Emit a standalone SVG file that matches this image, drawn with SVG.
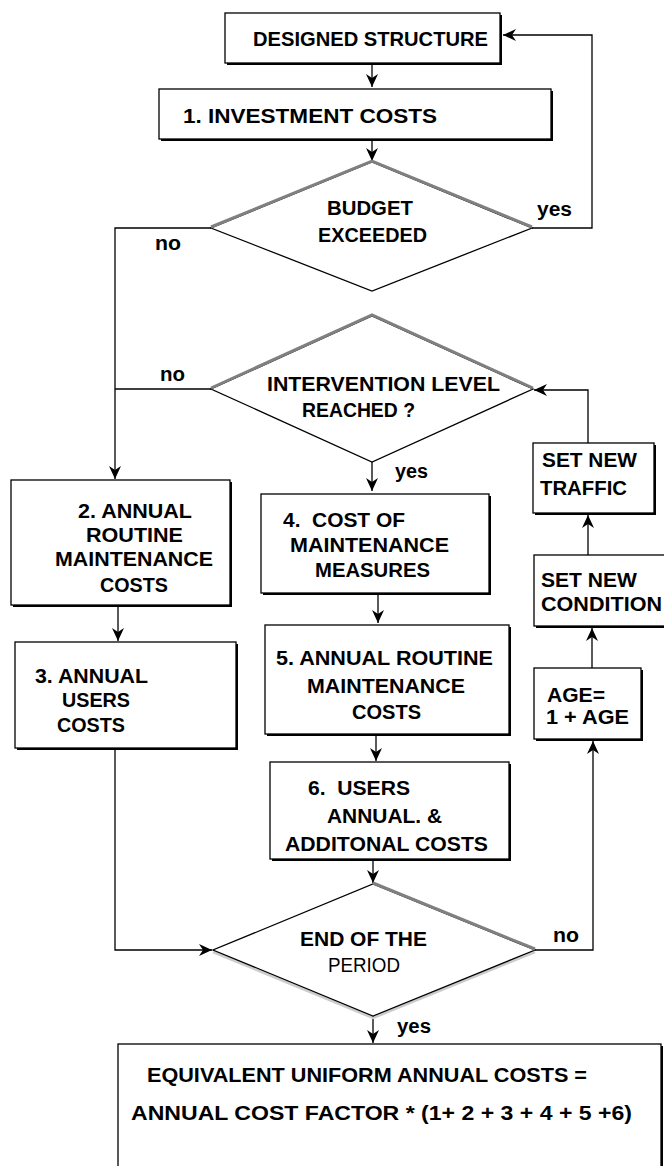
<svg xmlns="http://www.w3.org/2000/svg" width="664" height="1166" viewBox="0 0 664 1166">
<style>
.bx{fill:#fff;stroke:#000;stroke-width:1.3}
.sh{fill:#000}
.dm{fill:#fff;stroke:#000;stroke-width:1.3;stroke-linejoin:miter}
.gr{fill:none;stroke:#808080;stroke-width:3}
.t{font-family:"Liberation Sans",Arial,Helvetica,sans-serif;font-weight:bold;font-size:19.5px;fill:#000}
.n{font-weight:normal}
.c{fill:none;stroke:#000;stroke-width:1.3}
</style>
<defs>
<marker id="ah" markerUnits="userSpaceOnUse" markerWidth="13" markerHeight="12" refX="13" refY="6" orient="auto" viewBox="0 0 13 12">
<path d="M0,0 L13,6 L0,12 L4,6 z" fill="#000"/>
</marker>
</defs>
<rect width="664" height="1166" fill="#fff"/>

<g id="connectors">
<path class="c" d="M372,65 V87" marker-end="url(#ah)"/>
<path class="c" d="M372,141 V161" marker-end="url(#ah)"/>
<path class="c" d="M532,228 H592 V35 H503" marker-end="url(#ah)"/>
<path class="c" d="M211,228 H115 V479" marker-end="url(#ah)"/>
<path class="c" d="M211,389 H115"/>
<path class="c" d="M372,462 V491" marker-end="url(#ah)"/>
<path class="c" d="M118,582 V641" marker-end="url(#ah)"/>
<path class="c" d="M115,750 V950 H212" marker-end="url(#ah)"/>
<path class="c" d="M378,595 V623" marker-end="url(#ah)"/>
<path class="c" d="M376,736 V761" marker-end="url(#ah)"/>
<path class="c" d="M373,861 V883" marker-end="url(#ah)"/>
<path class="c" d="M535,950 H593 V741" marker-end="url(#ah)"/>
<path class="c" d="M592,668 V628" marker-end="url(#ah)"/>
<path class="c" d="M588,555 V515" marker-end="url(#ah)"/>
<path class="c" d="M588,443 V390 H534" marker-end="url(#ah)"/>
<path class="c" d="M373,1016 V1043" marker-end="url(#ah)"/>
</g>

<g id="designed">
<rect class="sh" x="227" y="15" width="275" height="50"/>
<rect class="bx" x="225" y="13" width="275" height="50"/>
<text class="t" x="253" y="46" textLength="235" lengthAdjust="spacingAndGlyphs">DESIGNED STRUCTURE</text>
</g>

<g id="investment">
<rect class="sh" x="161" y="91" width="392" height="50"/>
<rect class="bx" x="159" y="89" width="392" height="50"/>
<text class="t" x="183" y="123" textLength="254" lengthAdjust="spacingAndGlyphs">1. INVESTMENT COSTS</text>
</g>

<g id="budget">
<polygon class="dm" points="372,162 532,228 372,291 211,228"/>
<polyline class="gr" points="211,227 372,161 532,227"/>
<text class="t" x="327" y="215" textLength="86" lengthAdjust="spacingAndGlyphs">BUDGET</text>
<text class="t" x="318" y="242" textLength="109" lengthAdjust="spacingAndGlyphs">EXCEEDED</text>
</g>

<g id="intervention">
<polygon class="dm" points="372,316 533,389 372,462 211,389"/>
<polyline class="gr" points="211,388 372,315 533,388"/>
<text class="t" x="267" y="391" textLength="233" lengthAdjust="spacingAndGlyphs">INTERVENTION LEVEL</text>
<text class="t" x="302" y="417" textLength="113" lengthAdjust="spacingAndGlyphs">REACHED ?</text>
</g>

<g id="box2">
<rect class="sh" x="13" y="482" width="219" height="125"/>
<rect class="bx" x="11" y="480" width="219" height="125"/>
<text class="t" x="78" y="518" textLength="114" lengthAdjust="spacingAndGlyphs">2. ANNUAL</text>
<text class="t" x="86" y="542" textLength="97" lengthAdjust="spacingAndGlyphs">ROUTINE</text>
<text class="t" x="55" y="566" textLength="158" lengthAdjust="spacingAndGlyphs">MAINTENANCE</text>
<text class="t" x="100" y="592" textLength="68" lengthAdjust="spacingAndGlyphs">COSTS</text>
</g>

<g id="box3">
<rect class="sh" x="17" y="644" width="221" height="106"/>
<rect class="bx" x="15" y="642" width="221" height="106"/>
<text class="t" x="35" y="683" textLength="113" lengthAdjust="spacingAndGlyphs">3. ANNUAL</text>
<text class="t" x="62" y="707" textLength="68" lengthAdjust="spacingAndGlyphs">USERS</text>
<text class="t" x="57" y="732" textLength="68" lengthAdjust="spacingAndGlyphs">COSTS</text>
</g>

<g id="box4">
<rect class="sh" x="263" y="496" width="228" height="99"/>
<rect class="bx" x="261" y="494" width="228" height="99"/>
<text class="t" x="283" y="527" textLength="122" lengthAdjust="spacingAndGlyphs" xml:space="preserve">4.  COST OF</text>
<text class="t" x="290" y="552" textLength="159" lengthAdjust="spacingAndGlyphs">MAINTENANCE</text>
<text class="t" x="315" y="577" textLength="115" lengthAdjust="spacingAndGlyphs">MEASURES</text>
</g>

<g id="box5">
<rect class="sh" x="267" y="627" width="244" height="109"/>
<rect class="bx" x="265" y="625" width="244" height="109"/>
<text class="t" x="276" y="665" textLength="217" lengthAdjust="spacingAndGlyphs">5. ANNUAL ROUTINE</text>
<text class="t" x="307" y="693" textLength="158" lengthAdjust="spacingAndGlyphs">MAINTENANCE</text>
<text class="t" x="352" y="719" textLength="69" lengthAdjust="spacingAndGlyphs">COSTS</text>
</g>

<g id="box6">
<rect class="sh" x="272" y="764" width="239" height="97"/>
<rect class="bx" x="270" y="762" width="239" height="97"/>
<text class="t" x="308" y="795" textLength="102" lengthAdjust="spacingAndGlyphs" xml:space="preserve">6.  USERS</text>
<text class="t" x="327" y="823" textLength="115" lengthAdjust="spacingAndGlyphs">ANNUAL. &amp;</text>
<text class="t" x="285" y="851" textLength="203" lengthAdjust="spacingAndGlyphs">ADDITONAL COSTS</text>
</g>

<g id="traffic">
<rect class="sh" x="535" y="445" width="121" height="70"/>
<rect class="bx" x="533" y="443" width="121" height="70"/>
<text class="t" x="542" y="467" textLength="95" lengthAdjust="spacingAndGlyphs">SET NEW</text>
<text class="t" x="540" y="495" textLength="87" lengthAdjust="spacingAndGlyphs">TRAFFIC</text>
</g>

<g id="condition">
<rect class="sh" x="536" y="557" width="150" height="71"/>
<rect class="bx" x="534" y="555" width="150" height="71"/>
<text class="t" x="541" y="587" textLength="96" lengthAdjust="spacingAndGlyphs">SET NEW</text>
<text class="t" x="541" y="611" textLength="121" lengthAdjust="spacingAndGlyphs">CONDITION</text>
</g>

<g id="age">
<rect class="sh" x="536" y="670" width="107" height="71"/>
<rect class="bx" x="534" y="668" width="107" height="71"/>
<text class="t" x="547" y="702" textLength="58" lengthAdjust="spacingAndGlyphs">AGE=</text>
<text class="t" x="546" y="724" textLength="83" lengthAdjust="spacingAndGlyphs">1 + AGE</text>
</g>

<g id="endperiod">
<polyline points="213,952 373,1018 535,952" fill="none" stroke="#ccc" stroke-width="2.5"/>
<polygon class="dm" points="373,884 535,950 373,1016 213,950"/>
<polyline class="gr" points="373,883 535,949"/>
<text class="t" x="300" y="946" textLength="127" lengthAdjust="spacingAndGlyphs">END OF THE</text>
<text class="t n" x="328" y="972" textLength="72" lengthAdjust="spacingAndGlyphs">PERIOD</text>
</g>

<g id="result">
<rect class="sh" x="120" y="1046" width="543" height="130"/>
<rect class="bx" x="118" y="1044" width="543" height="130"/>
<text class="t" x="147" y="1082" textLength="440" lengthAdjust="spacingAndGlyphs">EQUIVALENT UNIFORM ANNUAL COSTS =</text>
<text class="t" x="131" y="1120" textLength="501" lengthAdjust="spacingAndGlyphs">ANNUAL COST FACTOR * (1+ 2 + 3 + 4 + 5 +6)</text>
</g>

<g id="labels">
<text class="t" x="537" y="216" textLength="35" lengthAdjust="spacingAndGlyphs">yes</text>
<text class="t" x="155" y="250" textLength="26" lengthAdjust="spacingAndGlyphs">no</text>
<text class="t" x="160" y="381" textLength="25" lengthAdjust="spacingAndGlyphs">no</text>
<text class="t" x="395" y="478" textLength="33" lengthAdjust="spacingAndGlyphs">yes</text>
<text class="t" x="553" y="942" textLength="26" lengthAdjust="spacingAndGlyphs">no</text>
<text class="t" x="397" y="1033" textLength="34" lengthAdjust="spacingAndGlyphs">yes</text>
</g>
</svg>
